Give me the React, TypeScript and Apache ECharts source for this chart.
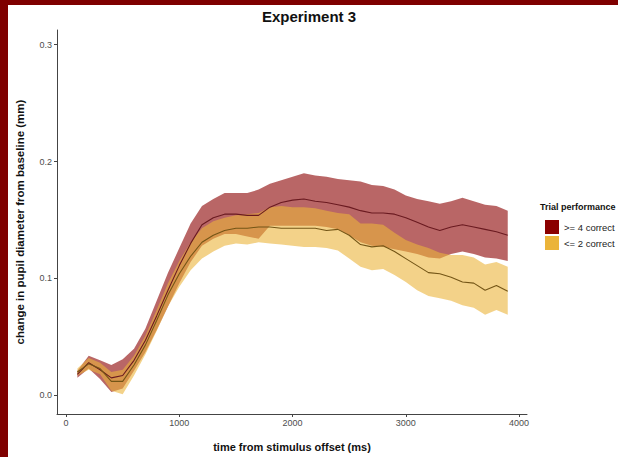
import React, { useEffect, useRef } from "react";
import * as echarts from "echarts";

const times = [100, 200, 300, 400, 500, 600, 700, 800, 900, 1000, 1100, 1200, 1300, 1400, 1500, 1600, 1700, 1800, 1900, 2000, 2100, 2200, 2300, 2400, 2500, 2600, 2700, 2800, 2900, 3000, 3100, 3200, 3300, 3400, 3500, 3600, 3700, 3800, 3900];

// >= 4 correct
const highMean = [0.018, 0.028, 0.022, 0.015, 0.017, 0.030, 0.047, 0.068, 0.090, 0.111, 0.130, 0.146, 0.152, 0.155, 0.155, 0.154, 0.154, 0.161, 0.165, 0.167, 0.168, 0.166, 0.165, 0.163, 0.161, 0.158, 0.156, 0.156, 0.155, 0.152, 0.148, 0.144, 0.141, 0.144, 0.146, 0.144, 0.142, 0.140, 0.137];
const highUpper = [0.021, 0.034, 0.030, 0.026, 0.031, 0.040, 0.057, 0.081, 0.105, 0.126, 0.147, 0.162, 0.168, 0.173, 0.173, 0.173, 0.176, 0.181, 0.184, 0.187, 0.190, 0.188, 0.187, 0.185, 0.184, 0.183, 0.180, 0.179, 0.176, 0.171, 0.168, 0.166, 0.164, 0.166, 0.169, 0.166, 0.163, 0.162, 0.158];
const highLower = [0.015, 0.023, 0.014, 0.003, 0.006, 0.021, 0.037, 0.056, 0.076, 0.096, 0.114, 0.128, 0.134, 0.138, 0.138, 0.136, 0.134, 0.145, 0.145, 0.145, 0.145, 0.145, 0.144, 0.142, 0.137, 0.131, 0.128, 0.127, 0.125, 0.123, 0.121, 0.118, 0.117, 0.121, 0.123, 0.121, 0.118, 0.117, 0.115];

// <= 2 correct
const lowMean = [0.020, 0.027, 0.023, 0.012, 0.012, 0.026, 0.043, 0.064, 0.086, 0.104, 0.119, 0.131, 0.137, 0.141, 0.143, 0.143, 0.144, 0.144, 0.143, 0.143, 0.143, 0.143, 0.141, 0.142, 0.137, 0.129, 0.127, 0.128, 0.123, 0.117, 0.111, 0.105, 0.104, 0.101, 0.097, 0.096, 0.090, 0.094, 0.089];
const lowUpper = [0.023, 0.032, 0.028, 0.020, 0.022, 0.034, 0.051, 0.073, 0.096, 0.115, 0.131, 0.143, 0.149, 0.152, 0.154, 0.155, 0.156, 0.161, 0.162, 0.161, 0.161, 0.160, 0.158, 0.156, 0.155, 0.147, 0.147, 0.146, 0.139, 0.133, 0.129, 0.126, 0.122, 0.120, 0.120, 0.118, 0.112, 0.114, 0.110];
const lowLower = [0.017, 0.022, 0.018, 0.004, 0.001, 0.017, 0.035, 0.055, 0.076, 0.093, 0.107, 0.117, 0.123, 0.128, 0.130, 0.129, 0.131, 0.130, 0.129, 0.128, 0.127, 0.127, 0.126, 0.124, 0.117, 0.110, 0.107, 0.108, 0.103, 0.097, 0.090, 0.085, 0.083, 0.081, 0.077, 0.075, 0.069, 0.073, 0.069];

const xTicks = [0, 1000, 2000, 3000, 4000];
const yTicks = [0, 0.1, 0.2, 0.3];
const groupNames = [">= 4 correct", "<= 2 correct"];

const RED = "#8B0000";
const YELLOW = "#EBB43A";
const FONT = "'Liberation Sans', Arial, sans-serif";

const pairs = (vals: number[]) => times.map((t, i) => [t, vals[i]]);
const bandRows = (lo: number[], hi: number[]) => times.map((t, i) => [t, lo[i], hi[i]]);

function bandSeries(name: string, lo: number[], hi: number[], color: string) {
  return {
    type: "custom",
    name,
    silent: true,
    clip: true,
    data: bandRows(lo, hi),
    encode: { x: 0, y: [1, 2] },
    itemStyle: { color },
    renderItem: (params: any, api: any) => {
      if (params.dataIndex !== 0) return null;
      const upperPts = times.map((t, i) => api.coord([t, hi[i]]));
      const lowerPts = times.map((t, i) => api.coord([t, lo[i]])).reverse();
      return {
        type: "polygon",
        shape: { points: upperPts.concat(lowerPts) },
        style: { fill: color, opacity: 0.6, stroke: "none" },
      };
    },
  };
}

export default function App() {
  const ref = useRef<HTMLDivElement>(null);
  useEffect(() => {
    if (!ref.current) return;
    const chart = echarts.init(ref.current, undefined, { renderer: "svg" });
    chart.setOption({
      animation: false,
      backgroundColor: "#ffffff",
      title: {
        text: "Experiment 3",
        left: "center",
        top: 9,
        padding: 0,
        textStyle: { fontFamily: FONT, fontSize: 15, fontWeight: "bold", color: "#111" },
      },
      legend: {
        orient: "vertical",
        left: 540,
        top: 215,
        itemWidth: 14,
        itemHeight: 14,
        itemGap: 2,
        icon: "rect",
        selectedMode: false,
        data: [
          { name: groupNames[0], itemStyle: { color: RED, opacity: 1 } },
          { name: groupNames[1], itemStyle: { color: YELLOW, opacity: 1 } },
        ],
        textStyle: { fontFamily: FONT, fontSize: 9.5, color: "#222" },
      },
      grid: { left: 57, right: 91, top: 30, bottom: 34, containLabel: false },
      xAxis: {
        type: "value",
        min: -80,
        max: 4070,
        name: "time from stimulus offset (ms)",
        nameLocation: "middle",
        nameGap: 27,
        nameTextStyle: { fontFamily: FONT, fontSize: 11, fontWeight: "bold", color: "#111" },
        splitLine: { show: false },
        axisLine: { show: true, onZero: false, lineStyle: { color: "#444", width: 1 } },
        axisTick: { show: true, length: 3, customValues: xTicks, lineStyle: { color: "#444" } },
        axisLabel: {
          customValues: xTicks,
          fontFamily: FONT,
          fontSize: 9,
          color: "#4d4d4d",
          margin: 4,
          formatter: (v: number) => String(v),
        },
      },
      yAxis: {
        type: "value",
        min: -0.0159,
        max: 0.3125,
        name: "change in pupil diameter from baseline (mm)",
        nameLocation: "middle",
        nameRotate: 90,
        nameGap: 31,
        nameTextStyle: { fontFamily: FONT, fontSize: 11.5, fontWeight: "bold", color: "#111" },
        splitLine: { show: false },
        axisLine: { show: true, onZero: false, lineStyle: { color: "#444", width: 1 } },
        axisTick: { show: true, length: 3, customValues: yTicks, lineStyle: { color: "#444" } },
        axisLabel: {
          customValues: yTicks,
          fontFamily: FONT,
          fontSize: 9,
          color: "#4d4d4d",
          margin: 5,
          formatter: (v: number) => v.toFixed(1),
        },
      },
      graphic: [
        { type: "rect", left: 0, top: 0, shape: { width: 8, height: 457 }, style: { fill: "#7f0000" }, silent: true },
        { type: "rect", left: 0, top: 0, shape: { width: 618, height: 5 }, style: { fill: "#7f0000" }, silent: true },
        {
          type: "text",
          left: 540,
          top: 202,
          style: { text: "Trial performance", fontFamily: FONT, fontSize: 9, fontWeight: "bold", fill: "#111" },
        },
      ],
      series: [
        bandSeries(groupNames[0], highLower, highUpper, RED),
        bandSeries(groupNames[1], lowLower, lowUpper, YELLOW),
        {
          type: "line",
          name: "high-mean",
          symbol: "none",
          data: pairs(highMean),
          lineStyle: { color: "#6a1a20", width: 1.1 },
          silent: true,
        },
        {
          type: "line",
          name: "low-mean",
          symbol: "none",
          data: pairs(lowMean),
          lineStyle: { color: "#735516", width: 1.1 },
          silent: true,
        },
      ],
    });
    return () => chart.dispose();
  }, []);
  return (
    <div style={{ position: "fixed", left: 0, top: 0, width: 618, height: 457 }}>
      <div ref={ref} style={{ width: 618, height: 457 }} />
    </div>
  );
}
